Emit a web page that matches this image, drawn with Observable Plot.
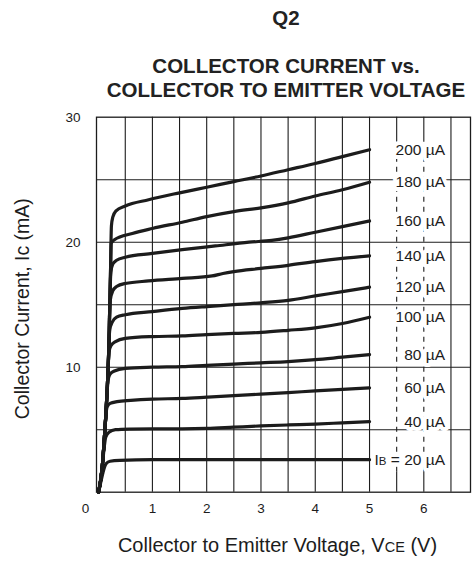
<!DOCTYPE html>
<html><head><meta charset="utf-8">
<script src="https://cdn.jsdelivr.net/npm/d3@7"></script>
<script src="https://cdn.jsdelivr.net/npm/@observablehq/plot@0.6"></script>
<style>
body{margin:0;background:#fff;font-family:"Liberation Sans",Arial,sans-serif;}
#header{position:relative;height:100px;width:473px;}
.t{position:absolute;left:286px;transform:translate(-50%,-50%);font-weight:bold;white-space:nowrap;color:#222;font-size:20.5px;line-height:1;}
</style></head>
<body>
<div id="header">
  <div class="t" style="top:18px">Q2</div>
  <div class="t" style="top:66px">COLLECTOR CURRENT vs.</div>
  <div class="t" style="top:90px">COLLECTOR TO EMITTER VOLTAGE</div>
</div>
<div id="chart"></div>
<script>
// Base current labels and curves: [VCE (V), IC (mA)]
const baseLabels = ["IB = 20 µA","40 µA","60 µA","80 µA","100 µA","120 µA","140 µA","160 µA","180 µA","200 µA"];
const curve20  = [[0.01,0],[0.07,1.2],[0.11,1.9],[0.15,2.3],[0.22,2.48],[0.4,2.55],[1,2.6],[2,2.6],[3,2.6],[4,2.6],[5,2.6]];
const curve40  = [[0.01,0],[0.075,2],[0.11,3.5],[0.14,4.4],[0.2,4.8],[0.32,5.0],[0.6,5.05],[1,5.07],[1.55,5.07],[2,5.1],[2.5,5.2],[3,5.3],[3.5,5.38],[4,5.45],[4.5,5.55],[5,5.65]];
const curve60  = [[0.01,0],[0.075,2],[0.11,4],[0.14,6],[0.165,6.8],[0.22,7.1],[0.35,7.25],[0.6,7.35],[1,7.45],[1.55,7.5],[2,7.6],[2.5,7.72],[3,7.85],[3.5,7.97],[4,8.1],[4.5,8.22],[5,8.35]];
const curve80  = [[0.01,0],[0.075,2],[0.11,4],[0.14,6],[0.165,8],[0.185,9.0],[0.22,9.45],[0.3,9.7],[0.5,9.9],[1,10.0],[1.55,10.05],[2,10.15],[2.5,10.25],[3,10.35],[3.5,10.45],[4,10.6],[4.5,10.8],[5,11.0]];
const curve100 = [[0.01,0],[0.075,2],[0.11,4],[0.14,6],[0.165,8],[0.185,10],[0.2,11.2],[0.24,11.75],[0.32,12.05],[0.5,12.3],[1,12.45],[1.55,12.5],[2,12.6],[2.5,12.7],[3,12.78],[3.5,12.95],[4,13.15],[4.5,13.5],[5,14.0]];
const curve120 = [[0.01,0],[0.075,2],[0.11,4],[0.14,6],[0.165,8],[0.185,10],[0.2,12],[0.215,13.0],[0.26,13.6],[0.34,14.0],[0.5,14.2],[1,14.45],[1.55,14.7],[2,14.85],[2.5,15.0],[3,15.15],[3.5,15.35],[4,15.7],[4.5,16.05],[5,16.4]];
const curve140 = [[0.01,0],[0.075,2],[0.11,4],[0.14,6],[0.165,8],[0.185,10],[0.2,12],[0.21,14],[0.225,15.4],[0.27,16.1],[0.34,16.45],[0.5,16.7],[0.93,16.9],[1.55,17.1],[2.1,17.3],[2.3,17.5],[2.5,17.65],[3,17.9],[3.5,18.15],[4,18.45],[4.5,18.7],[5,18.9]];
const curve160 = [[0.01,0],[0.075,2],[0.11,4],[0.14,6],[0.165,8],[0.185,10],[0.2,12],[0.21,14],[0.22,16],[0.235,17.6],[0.27,18.25],[0.34,18.55],[0.5,18.8],[1,19.1],[1.55,19.4],[2.16,19.7],[2.78,20.0],[3.2,20.15],[3.5,20.35],[4,20.8],[4.5,21.25],[5,21.7]];
const curve180 = [[0.01,0],[0.075,2],[0.11,4],[0.14,6],[0.165,8],[0.185,10],[0.2,12],[0.21,14],[0.22,16],[0.23,18],[0.24,19.9],[0.3,20.2],[0.63,20.7],[1,21.1],[1.55,21.6],[2,22.05],[2.5,22.45],[3,22.75],[3.5,23.15],[4,23.7],[4.5,24.2],[5,24.8]];
const curve200 = [[0.01,0],[0.075,2],[0.11,4],[0.14,6],[0.165,8],[0.185,10],[0.2,12],[0.21,14],[0.22,16],[0.23,18],[0.237,20],[0.245,21.3],[0.27,22.0],[0.33,22.5],[0.5,22.9],[0.93,23.4],[1.5,23.95],[2,24.4],[2.5,24.85],[3,25.3],[3.5,25.8],[4,26.3],[4.5,26.85],[5,27.4]];

const xTicks = [1, 2, 3, 4, 5, 6];
const yTicks = [10, 20, 30];
const originLabel = ["0"];
const gridV = [0.5, 1, 1.5, 2, 2.5, 3, 3.5, 4, 4.5, 5, 6.5];
const dashedGridV = [5.5, 6];
const gridI = [5, 10, 15, 20, 25];
const xLabel = "Collector to Emitter Voltage, VCE (V)";
const yLabel = "Collector Current, Ic (mA)";

const allCurves = [curve20, curve40, curve60, curve80, curve100, curve120, curve140, curve160, curve180, curve200];
const rows = [];
allCurves.forEach((c, k) => c.forEach(([v, i]) => rows.push({ib: baseLabels[k], v, i})));
const ends = allCurves.map((c, k) => ({label: baseLabels[k], i: c[c.length - 1][1]}));

const ink = "#1c1c1c";
const labelOpts = {x: () => 6.39, y: "i", text: "label", textAnchor: "end", fontSize: 15.5};
const chart = Plot.plot({
  width: 473, height: 463,
  marginLeft: 96, marginRight: 3, marginTop: 16.7, marginBottom: 71.3,
  style: {fontFamily: "'Liberation Sans', Arial, sans-serif", background: "#fff", color: ink},
  x: {domain: [-0.03, 6.86], axis: null},
  y: {domain: [0, 30], axis: null},
  marks: [
    Plot.ruleX(gridV, {stroke: ink, strokeWidth: 1.1}),
    Plot.ruleY(gridI, {stroke: ink, strokeWidth: 1.1}),
    Plot.ruleX(dashedGridV, {y1: 1.6, y2: 28, stroke: ink, strokeWidth: 1.1, strokeDasharray: "5,5"}),
    Plot.ruleX(dashedGridV, {y1: 0, y2: 1.6, stroke: ink, strokeWidth: 1.1}),
    Plot.ruleX(dashedGridV, {y1: 28, y2: 30, stroke: ink, strokeWidth: 1.1}),
    Plot.frame({stroke: ink, strokeWidth: 1.3}),
    Plot.line(rows, {x: "v", y: "i", z: "ib", curve: "monotone-x", stroke: ink, strokeWidth: 3.2, strokeLinejoin: "round"}),
    Plot.text(ends, {...labelOpts, fill: "white", stroke: "white", strokeWidth: 8, strokeLinejoin: "round", className: "halo"}),
    Plot.text(ends, {...labelOpts, fill: ink}),
    Plot.text(xTicks, {x: d => d, text: d => String(d), frameAnchor: "bottom", dy: 21, fontSize: 13.5, fill: ink}),
    Plot.text(yTicks, {y: d => d, text: d => String(d), frameAnchor: "left", dx: -16, textAnchor: "end", fontSize: 13.5, fill: ink}),
    Plot.text(originLabel, {text: d => d, frameAnchor: "bottom-left", dx: -11, dy: 21, textAnchor: "middle", fontSize: 13.5, fill: ink}),
    Plot.text([xLabel], {text: d => d, frameAnchor: "bottom", dy: 60, dx: -6, textAnchor: "middle", fontSize: 20, fill: ink}),
    Plot.text([yLabel], {text: d => d, frameAnchor: "left", dx: -74, dy: 4, rotate: -90, textAnchor: "middle", fontSize: 19.5, fill: ink})
  ]
});
document.getElementById("chart").appendChild(chart);

// small-cap subscripts
function sub(node, before, s, after, size) {
  node.textContent = "";
  const ns = "http://www.w3.org/2000/svg";
  const a = document.createElementNS(ns, "tspan"); a.textContent = before; node.appendChild(a);
  const b = document.createElementNS(ns, "tspan"); b.textContent = s; b.setAttribute("font-size", size); node.appendChild(b);
  const c = document.createElementNS(ns, "tspan"); c.textContent = after; node.appendChild(c);
}
chart.querySelectorAll("text").forEach(t => {
  const s = t.textContent;
  if (s === xLabel) sub(t, "Collector to Emitter Voltage, V", "CE", " (V)", "14.5");
  else if (s === "IB = 20 µA") sub(t, "I", "B", " = 20 µA", "11.5");
});
</script>
</body></html>
